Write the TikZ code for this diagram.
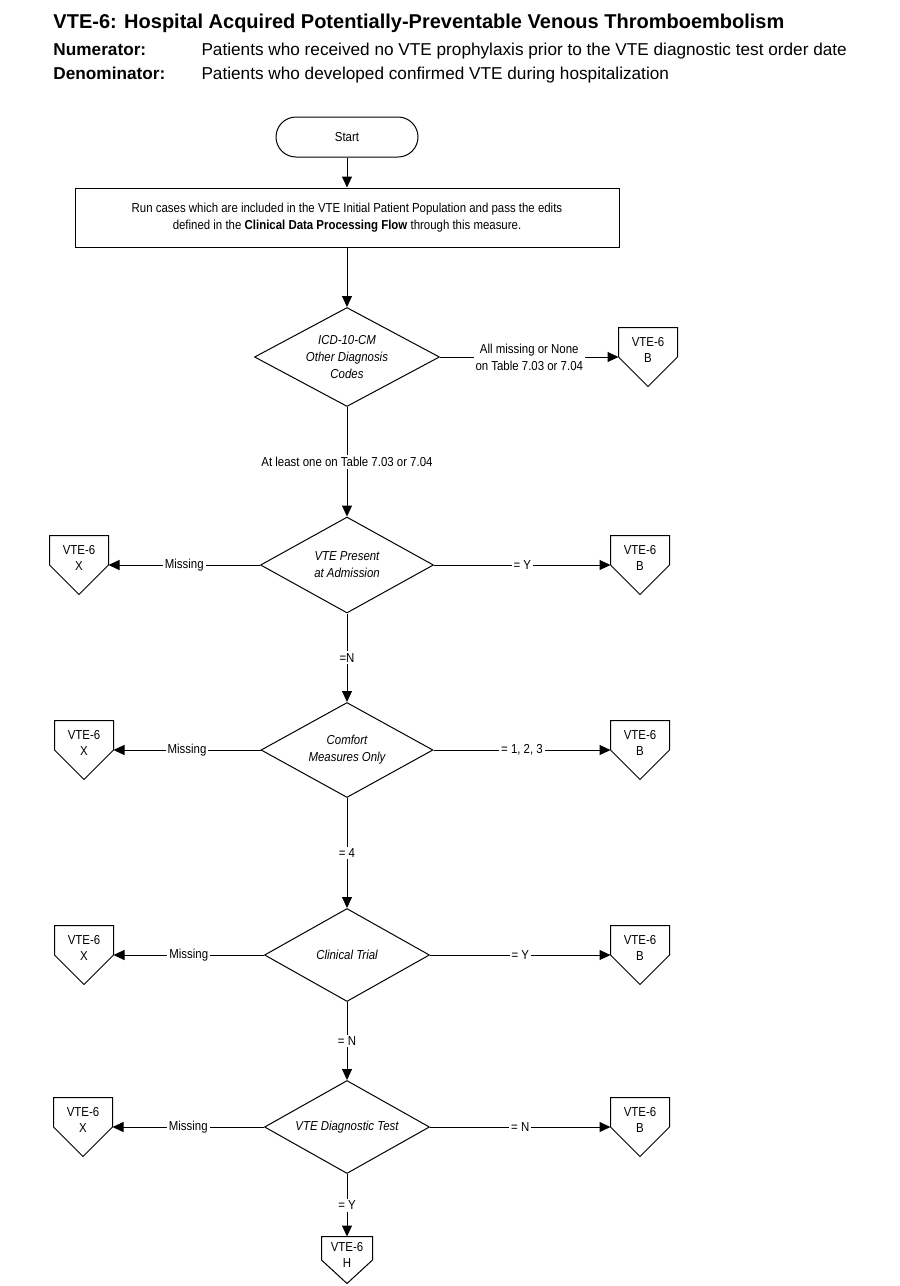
\documentclass[tikz,border=0pt]{standalone}
\usepackage{fontspec}
\setmainfont{Liberation Sans}
\newfontfamily\narrowsans{Liberation Sans}[FakeStretch=0.88]
\usetikzlibrary{shapes.geometric,arrows.meta}

\newcommand{\smallflow}{\narrowsans\fontsize{6.5}{8.5}\selectfont}
\newcommand{\vtelink}[2][2pt]{\raisebox{#1}[0pt][0pt]{\parbox{25pt}{\centering VTE-6\\#2}}}

\tikzset{
  flow/.style={-{Triangle[length=5.5pt,width=5pt]}},
  startbox/.style={draw, rounded corners=10pt, minimum width=71pt, minimum height=20pt, inner sep=0pt, font=\smallflow},
  procbox/.style={draw, minimum width=272pt, minimum height=29.5pt, inner sep=0pt, align=center, font=\smallflow},
  decision/.style={draw, diamond, aspect=1.8, inner sep=0pt, align=center, font=\smallflow\itshape},
  offpage/.style={minimum width=29pt, minimum height=29pt, inner sep=0pt, font=\narrowsans\fontsize{6.5}{8}\selectfont,
    append after command={\pgfextra{\draw (\tikzlastnode.north west) -- (\tikzlastnode.north east)
      -- (\tikzlastnode.east) -- (\tikzlastnode.south) -- (\tikzlastnode.west) -- cycle;}}},
  branch/.style={midway, fill=white, inner sep=1pt, align=center, font=\smallflow},
  heading/.style={anchor=base west, inner sep=0pt, font=\fontsize{8.6}{10}\selectfont}
}

\begin{document}
\begin{tikzpicture}[x=0.5pt, y=-0.5pt, line width=0.5pt]
  \useasboundingbox (0,0) rectangle (900,1286);

% heading
  \node[heading, font=\fontsize{10}{12}\selectfont\bfseries] (title) at (53,28)
    {VTE-6: Hospital Acquired Potentially-Preventable Venous Thromboembolism};
  \node[heading, font=\fontsize{8.6}{10}\selectfont\bfseries] (numlab) at (53,55) {Numerator:};
  \node[heading] (numtxt) at (201,55)
    {Patients who received no VTE prophylaxis prior to the VTE diagnostic test order date};
  \node[heading, font=\fontsize{8.6}{10}\selectfont\bfseries] (denlab) at (53,79) {Denominator:};
  \node[heading] (dentxt) at (201,79)
    {Patients who developed confirmed VTE during hospitalization};

% main column
  \node[startbox] (start) at (347,137) {Start};
  \node[procbox] (run) at (347,217.5) {Run cases which are included in the VTE Initial Patient Population and pass the edits\\
    defined in the \textbf{Clinical Data Processing Flow} through this measure.};
  \node[decision, minimum width=92.5pt, minimum height=49.5pt] (icd) at (347,357) {ICD-10-CM\\Other Diagnosis\\Codes};
  \node[decision, minimum width=86.5pt, minimum height=48pt] (poa) at (347,565) {VTE Present\\at Admission};
  \node[decision, minimum width=86pt, minimum height=47.5pt] (cmo) at (347,750) {Comfort\\Measures Only};
  \node[decision, minimum width=82.5pt, minimum height=46.5pt] (trial) at (347,955) {Clinical Trial};
  \node[decision, minimum width=82.5pt, minimum height=46.5pt] (test) at (347,1127) {VTE Diagnostic Test};

% off-page connectors
  \node[offpage] (b1) at (648,357) {\vtelink{B}};
  \node[offpage] (x2) at (79,565) {\vtelink{X}};
  \node[offpage] (b2) at (640,565) {\vtelink{B}};
  \node[offpage] (x3) at (84,750) {\vtelink{X}};
  \node[offpage] (b3) at (640,750) {\vtelink{B}};
  \node[offpage] (x4) at (84,955) {\vtelink{X}};
  \node[offpage] (b4) at (640,955) {\vtelink{B}};
  \node[offpage] (x5) at (83,1127) {\vtelink{X}};
  \node[offpage] (b5) at (640,1127) {\vtelink{B}};
  \node[offpage, minimum width=24.5pt, minimum height=23pt] (h) at (347,1260) {\vtelink[1pt]{H}};

% connectors
  \draw[flow] (start) -- (run);
  \draw[flow] (run) -- (icd);
  \draw[flow] (icd.east) -- node[branch] {All missing or None\\on Table 7.03 or 7.04} (b1.west);
  \draw[flow] (icd.south) -- node[branch] {At least one on Table 7.03 or 7.04} (poa.north);
  \draw[flow] (poa.west) -- node[branch] {Missing} (x2.east);
  \draw[flow] (poa.east) -- node[branch] {= Y} (b2.west);
  \draw[flow] (poa.south) -- node[branch] {=N} (cmo.north);
  \draw[flow] (cmo.west) -- node[branch] {Missing} (x3.east);
  \draw[flow] (cmo.east) -- node[branch] {= 1, 2, 3} (b3.west);
  \draw[flow] (cmo.south) -- node[branch] {= 4} (trial.north);
  \draw[flow] (trial.west) -- node[branch] {Missing} (x4.east);
  \draw[flow] (trial.east) -- node[branch] {= Y} (b4.west);
  \draw[flow] (trial.south) -- node[branch] {= N} (test.north);
  \draw[flow] (test.west) -- node[branch] {Missing} (x5.east);
  \draw[flow] (test.east) -- node[branch] {= N} (b5.west);
  \draw[flow] (test.south) -- node[branch] {= Y} (h.north);
\end{tikzpicture}
\end{document}
